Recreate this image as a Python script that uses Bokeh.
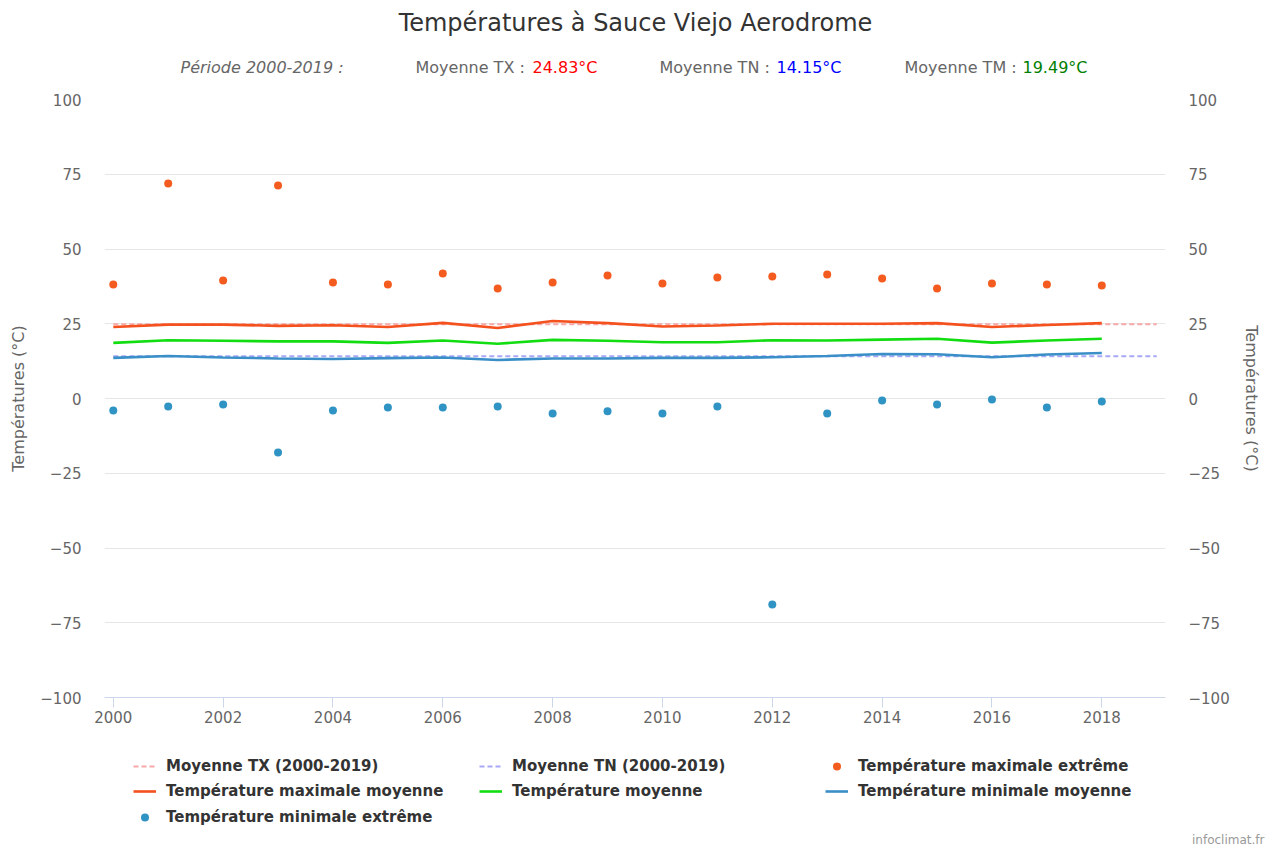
from bokeh.plotting import figure
from bokeh.layouts import column
from bokeh.models import Range1d, FixedTicker, LinearAxis, Legend, LegendItem, Title
from bokeh.core.properties import value
from bokeh.embed import file_html
from bokeh.resources import INLINE

# ---- data ----
years = list(range(2000, 2019))
tmax_ext = [38.1, 71.9, 39.5, 71.2, 38.8, 38.1, 41.8, 36.8, 38.8, 41.1,
            38.5, 40.5, 40.8, 41.5, 40.1, 36.8, 38.5, 38.1, 37.8]
tmin_ext = [-4.0, -2.7, -2.0, -18.1, -4.0, -3.0, -3.0, -2.7, -5.0, -4.3,
            -5.0, -2.7, -68.9, -5.0, -0.7, -2.0, -0.3, -3.0, -1.0]
tmax_mean = [23.9, 24.7, 24.7, 24.3, 24.5, 23.9, 25.3, 23.6, 25.9, 25.2,
             24.1, 24.4, 25.0, 25.0, 25.0, 25.2, 23.9, 24.6, 25.2]
tm_mean = [18.6, 19.5, 19.3, 19.1, 19.1, 18.6, 19.4, 18.3, 19.6, 19.3,
           18.8, 18.8, 19.5, 19.4, 19.7, 20.0, 18.7, 19.4, 20.0]
tmin_mean = [13.6, 14.2, 13.7, 13.4, 13.2, 13.5, 13.7, 12.9, 13.4, 13.4,
             13.6, 13.6, 13.8, 14.2, 14.9, 14.8, 13.8, 14.7, 15.2]
period_years = [2000, 2019]
tx_period = 24.83
tn_period = 14.15
tm_period = 19.49
x_ticks = list(range(2000, 2019, 2))
y_ticks = [-100, -75, -50, -25, 0, 25, 50, 75, 100]
y_tick_labels = ["\u2212100", "\u221275", "\u221250", "\u221225", "0", "25", "50", "75", "100"]
title_text = "Températures à Sauce Viejo Aerodrome"
period_text = "Période 2000-2019 :"
mean_names = ["Moyenne TX : ", "Moyenne TN : ", "Moyenne TM : "]
mean_values = [tx_period, tn_period, tm_period]
mean_colors = ["#ff0000", "#0000ff", "#008000"]
credit_text = "infoclimat.fr"
legend_rows = [
    ["Moyenne TX (2000-2019)", "Moyenne TN (2000-2019)", "Température maximale extrême"],
    ["Température maximale moyenne", "Température moyenne", "Température minimale moyenne"],
    ["Température minimale extrême"],
]

FONT = "DejaVu Sans"
W = 1268
FL, FR = 104, 1165  # plot frame left/right in page pixels

# styles per series (name -> (kind, style))
styles = {
    "Moyenne TX (2000-2019)": ("line", dict(line_color="#f7a8a8", line_width=2, line_dash="5 3")),
    "Moyenne TN (2000-2019)": ("line", dict(line_color="#a8a8f7", line_width=2, line_dash="5 3")),
    "Température maximale moyenne": ("line", dict(line_color="#f4511e", line_width=2.6)),
    "Température moyenne": ("line", dict(line_color="#11dd11", line_width=2.6)),
    "Température minimale moyenne": ("line", dict(line_color="#3a8fc8", line_width=2.6)),
    "Température maximale extrême": ("scatter", dict(size=8, marker="circle", fill_color="#f45b1f", line_color=None)),
    "Température minimale extrême": ("scatter", dict(size=8, marker="circle", fill_color="#2f93c4", line_color=None)),
}

# ---- header (title + subtitle) ----
head = figure(width=W, height=88, output_backend="svg", toolbar_location=None,
              x_range=Range1d(FL, FR), y_range=Range1d(88, 0),
              x_axis_type=None, y_axis_type=None, min_border=0,
              outline_line_color=None)
head.grid.visible = False
head.text(x=[635], y=[22], text=[title_text], text_font=value(FONT),
          text_font_size="24px", text_color="#333333",
          text_align="center", text_baseline="middle")
head.text(x=[180], y=[67], text=[period_text], text_font=value(FONT),
          text_font_size="16px", text_color="#666666", text_font_style="italic",
          text_align="left", text_baseline="middle")
head.text(x=[415, 659, 904], y=[67, 67, 67], text=mean_names,
          text_font=value(FONT), text_font_size="16px", text_color="#666666",
          text_align="left", text_baseline="middle")
head.text(x=[532, 776, 1022], y=[67, 67, 67],
          text=[f"{v:.2f}°C" for v in mean_values],
          text_color=mean_colors, text_font=value(FONT), text_font_size="16px",
          text_align="left", text_baseline="middle")

# ---- main chart ----
MH = 649
p = figure(width=W, height=MH, output_backend="svg", toolbar_location=None,
           x_range=Range1d(1999.84, 2019.16), y_range=Range1d(-100, 100),
           min_border_left=FL, min_border_right=W - FR, min_border_top=11,
           min_border_bottom=MH - 11 - 598, outline_line_color=None)

p.xgrid.grid_line_color = None
p.ygrid.grid_line_color = "#e6e6e6"
p.ygrid.ticker = FixedTicker(ticks=y_ticks)

xa = p.xaxis[0]
xa.ticker = FixedTicker(ticks=x_ticks)
xa.axis_line_color = "#ccd6eb"
xa.major_tick_line_color = "#ccd6eb"
xa.major_tick_out = 10
xa.major_tick_in = 0
xa.minor_tick_line_color = None
xa.major_label_text_font = FONT
xa.major_label_text_font_size = "15px"
xa.major_label_text_color = "#666666"
xa.major_label_standoff = 3


def style_y(ax):
    ax.ticker = FixedTicker(ticks=y_ticks)
    ax.major_label_overrides = {t: l for t, l in zip(y_ticks, y_tick_labels)}
    ax.axis_line_color = None
    ax.major_tick_line_color = None
    ax.minor_tick_line_color = None
    ax.major_tick_out = 0
    ax.major_tick_in = 0
    ax.major_label_standoff = 23
    ax.major_label_text_font = FONT
    ax.major_label_text_font_size = "15px"
    ax.major_label_text_color = "#666666"
    ax.axis_label = "Températures (°C)"
    ax.axis_label_text_font = FONT
    ax.axis_label_text_font_size = "16px"
    ax.axis_label_text_font_style = "normal"
    ax.axis_label_text_color = "#666666"
    ax.axis_label_standoff = 9


style_y(p.yaxis[0])
ra = LinearAxis()
style_y(ra)
p.add_layout(ra, "right")

series = {
    "Moyenne TX (2000-2019)": (period_years, [tx_period, tx_period]),
    "Moyenne TN (2000-2019)": (period_years, [tn_period, tn_period]),
    "Température maximale moyenne": (years, tmax_mean),
    "Température moyenne": (years, tm_mean),
    "Température minimale moyenne": (years, tmin_mean),
    "Température maximale extrême": (years, tmax_ext),
    "Température minimale extrême": (years, tmin_ext),
}
for name, (xs, ys) in series.items():
    kind, st = styles[name]
    getattr(p, kind)(xs, ys, **st)

# ---- legend strip (proxy renderers: same data & style, outside this strip's ranges) ----
LH = 852 - 88 - MH
lf = figure(width=W, height=LH, output_backend="svg", toolbar_location=None,
            x_range=Range1d(0, 1), y_range=Range1d(0, 1),
            x_axis_type=None, y_axis_type=None, min_border=0,
            min_border_bottom=22, outline_line_color=None)
lf.grid.visible = False
proxies = {}
for name, (xs, ys) in series.items():
    kind, st = styles[name]
    proxies[name] = getattr(lf, kind)(xs, ys, **st)

frame_h = LH - 22
row_centers = [766, 791, 817]  # page y of each legend row
for labels, yc in zip(legend_rows, row_centers):
    bottom_page = yc + 10
    y_loc = (88 + MH + frame_h) - bottom_page
    lg = Legend(items=[LegendItem(label=l, renderers=[proxies[l]]) for l in labels],
                orientation="horizontal", location=(29, y_loc),
                glyph_width=23, glyph_height=20, label_height=20, label_standoff=10,
                label_width=308, spacing=5, padding=0, margin=0,
                border_line_color=None, background_fill_alpha=0,
                label_text_font=FONT, label_text_font_size="15px",
                label_text_font_style="bold", label_text_color="#333333")
    lf.add_layout(lg, "center")

credit = Title(text=credit_text, align="right", offset=-99, standoff=0,
               text_font=FONT, text_font_size="12px", text_color="#999999",
               text_font_style="normal")
lf.add_layout(credit, "below")

layout = column(head, p, lf, spacing=0)
open("out.html", "w").write(file_html(layout, INLINE))
